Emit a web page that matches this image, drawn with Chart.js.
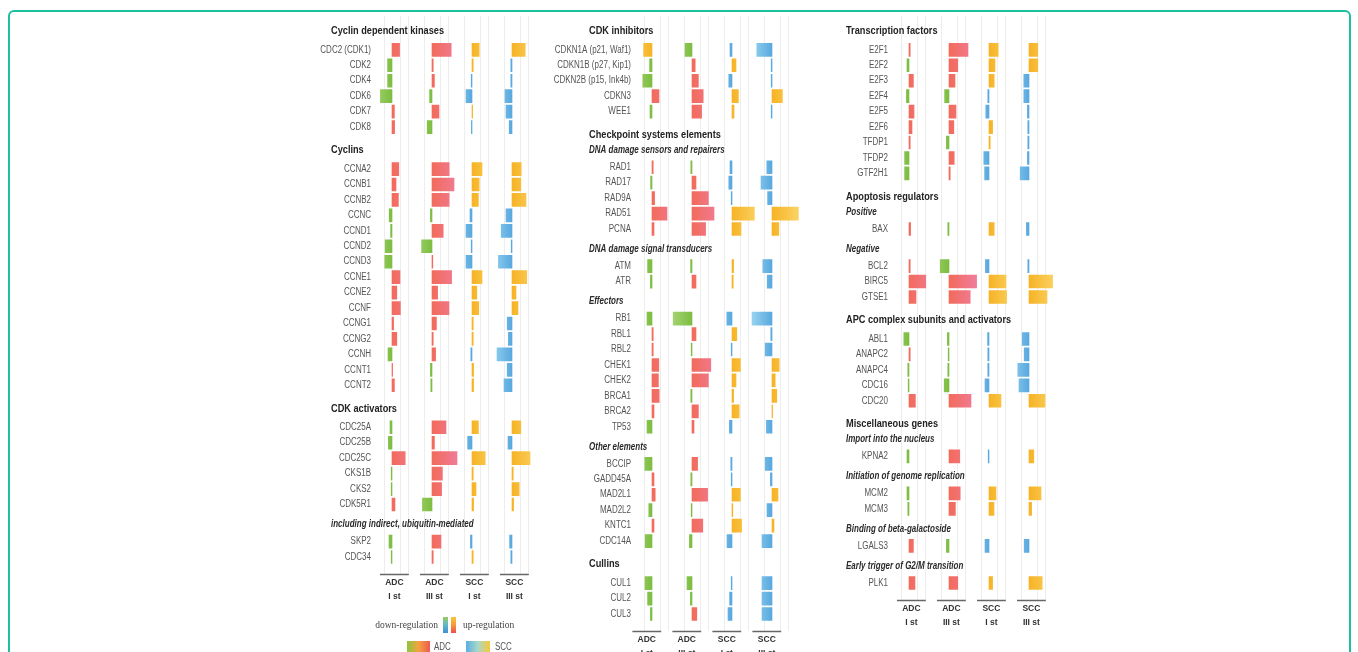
<!DOCTYPE html>
<html>
<head>
<meta charset="utf-8">
<script src="https://cdn.jsdelivr.net/npm/chart.js@4.4.0/dist/chart.umd.min.js"></script>
<style>
  html, body { margin: 0; padding: 0; background: #fff; width: 1358px; height: 652px; overflow: hidden; }
  #frame { position: absolute; left: 8px; top: 10px; width: 1343px; height: 700px; border: 2px solid #1cbf9f; border-radius: 6px; box-sizing: border-box; }
  canvas { position: absolute; }
</style>
</head>
<body>
<div id="frame"></div>
<canvas id="col1"></canvas>
<canvas id="col2"></canvas>
<canvas id="col3"></canvas>
<script>
// row lists: "# " = section title, "~ " = italic subsection, anything else is a gene
const col1Rows = [
  '# Cyclin dependent kinases', 'CDC2 (CDK1)', 'CDK2', 'CDK4', 'CDK6', 'CDK7', 'CDK8',
  '# Cyclins', 'CCNA2', 'CCNB1', 'CCNB2', 'CCNC', 'CCND1', 'CCND2', 'CCND3', 'CCNE1', 'CCNE2',
  'CCNF', 'CCNG1', 'CCNG2', 'CCNH', 'CCNT1', 'CCNT2',
  '# CDK activators', 'CDC25A', 'CDC25B', 'CDC25C', 'CKS1B', 'CKS2', 'CDK5R1',
  '~ including indirect, ubiquitin-mediated', 'SKP2', 'CDC34'
]
const col1AdcI   = [1.9, -1.1, -1.1, -2.9, 0.6, 0.65,  1.7, 1.0, 1.6, -0.7, -0.35, -1.7, -1.8, 2.0, 1.2, 2.1, 0.4, 1.2, -1.0, 0.15, 0.6,  -0.5, -0.9, 3.3, -0.2, -0.2, 0.75,  -0.75, -0.2]
const col1AdcIII = [4.8, 0.3, 0.6, -0.6, 1.75, -1.2,  4.3, 5.5, 4.3, -0.4, 2.8, -2.6, 0.2, 4.9, 1.4, 4.25, 1.1, 0.3, 0.9, -0.4, -0.3,  3.5, 0.6, 6.25, 2.6, 2.4, -2.4,  2.25, 0.3]
const col1SccI   = [1.8, 0.3, -0.2, -1.5, 0.15, -0.15,  2.5, 1.8, 1.6, -0.5, -1.5, -0.2, -1.5, 2.5, 1.2, 1.7, 0.3, 0.3, -0.3, 0.4, 0.4,  1.6, -1.1, 3.3, 0.3, 1.0, 0.4,  -0.4, 0.3]
const col1SccIII = [3.3, -0.3, -0.3, -1.75, -1.5, -0.7,  2.3, 2.2, 3.5, -1.5, -2.7, -0.2, -3.4, 3.7, 1.0, 1.5, -1.2, -0.9, -3.75, -1.2, -2.0,  2.2, -1.0, 4.5, 0.3, 1.8, 0.4,  -0.6, -0.3]

const col2Rows = [
  '# CDK inhibitors', 'CDKN1A (p21, Waf1)', 'CDKN1B (p27, Kip1)', 'CDKN2B (p15, Ink4b)', 'CDKN3', 'WEE1',
  '# Checkpoint systems elements', '~ DNA damage sensors and repairers', 'RAD1', 'RAD17', 'RAD9A', 'RAD51', 'PCNA',
  '~ DNA damage signal transducers', 'ATM', 'ATR',
  '~ Effectors', 'RB1', 'RBL1', 'RBL2', 'CHEK1', 'CHEK2', 'BRCA1', 'BRCA2', 'TP53',
  '~ Other elements', 'BCCIP', 'GADD45A', 'MAD2L1', 'MAD2L2', 'KNTC1', 'CDC14A',
  '# Cullins', 'CUL1', 'CUL2', 'CUL3'
]
const col2AdcI   = [-2.1, -0.6, -2.3, 1.75, -0.5,  0.3, -0.35, 0.65, 3.75, 0.5,  -1.1, -0.4,  -1.25, 0.3, 0.3, 1.7, 1.6, 1.8, 0.5, -1.25,  -1.8, 0.5, 0.8, -0.8, 0.5, -1.7,  -1.75, -1.1, -0.4]
const col2AdcIII = [-1.75, 0.8, 1.6, 2.8, 2.4,  -0.3, 1.0, 4.1, 5.5, 3.4,  -0.35, 1.0,  -4.7, 1.0, -0.2, 4.7, 4.1, -0.3, 1.6, 0.5,  1.4, -0.3, 3.9, -0.2, 2.7, -0.65,  -1.25, -0.4, 1.2]
const col2SccI   = [-0.5, 1.0, -0.8, 1.6, 0.5,  -0.5, -0.8, -0.2, 5.6, 2.25,  0.4, 0.3,  -1.3, 1.2, -0.2, 2.1, 1.0, 0.4, 1.8, -0.65,  -0.3, -0.2, 2.1, 0.2, 2.4, -1.25,  -0.2, -0.6, -1.0]
const col2SccIII = [-3.8, -0.2, -0.2, 2.6, -0.2,  -1.3, -2.75, -1.1, 6.6, 1.7,  -2.3, -1.2,  -5.0, -0.3, -1.7, 1.8, 0.8, 1.2, 0.15, -1.4,  -1.7, -0.4, 1.5, -1.25, 0.5, -2.5,  -2.5, -2.5, -2.5]

const col3Rows = [
  '# Transcription factors', 'E2F1', 'E2F2', 'E2F3', 'E2F4', 'E2F5', 'E2F6', 'TFDP1', 'TFDP2', 'GTF2H1',
  '# Apoptosis regulators', '~ Positive', 'BAX', '~ Negative', 'BCL2', 'BIRC5', 'GTSE1',
  '# APC complex subunits and activators', 'ABL1', 'ANAPC2', 'ANAPC4', 'CDC16', 'CDC20',
  '# Miscellaneous genes', '~ Import into the nucleus', 'KPNA2', '~ Initiation of genome replication', 'MCM2', 'MCM3',
  '~ Binding of beta-galactoside', 'LGALS3', '~ Early trigger of G2/M transition', 'PLK1'
]
const col3AdcI   = [0.3, -0.5, 1.1, -0.65, 1.25, 0.75, 0.3, -1.1, -1.1,  0.4,  0.3, 4.2, 1.75,  -1.3, 0.3, -0.3, -0.2, 1.6,  -0.5, -0.5, -0.3, 1.1, 1.5]
const col3AdcIII = [4.75, 2.2, 1.5, -1.1, 1.75, 1.2, -0.65, 1.3, 0.3,  -0.3,  -2.2, 6.9, 5.3,  -0.4, -0.2, -0.3, -1.2, 5.5,  2.7, 2.8, 1.6, -0.65, 2.2]
const col3SccI   = [2.3, 1.5, 1.3, -0.3, -0.8, 0.9, 0.3, -1.3, -1.1,  1.3,  -0.9, 4.25, 4.4,  -0.35, -0.3, -0.3, -1.0, 3.0,  -0.2, 1.75, 1.25, -1.0, 0.9]
const col3SccIII = [2.2, 2.2, -1.3, -1.3, -0.4, -0.3, -0.3, -0.4, -2.2,  -0.65,  -0.3, 5.9, 4.5,  -1.7, -1.2, -2.8, -2.5, 4.0,  1.2, 3.0, 0.65, -1.2, 3.3]

const stageLabels = [['ADC', 'I st'], ['ADC', 'III st'], ['SCC', 'I st'], ['SCC', 'III st']]

// layout
const ROW = 15.45        // px per row unit
const UNIT = 4           // px per value unit
const PANEL = 10         // value units between panel zero lines
const X_MIN = -5, X_MAX = 37
const CANVAS_TOP = 4
const PAD_TOP = 31 - ROW - CANVAS_TOP
const AXIS_H = 40
const GAP = {'gene>gene': 1, 'h1>gene': 1.22, 'gene>h1': 1.5, 'h1>h2': 1.0, 'h2>gene': 1.1, 'gene>h2': 1.3}

const SANS = "'Liberation Sans', Arial, sans-serif"
const SQUEEZE = 0.8      // the figure uses a narrow face
const FILL = {
  red:    ['#f26b5b', '#f07d9c'],
  green:  ['#7dbd42', '#b4dc86'],
  blue:   ['#58a8df', '#b0e4f6'],
  yellow: ['#f6b326', '#fbd567']
}

function layoutRows(rows) {
  let pos = 0, prev = null
  return rows.map(r => {
    const kind = r.startsWith('# ') ? 'h1' : r.startsWith('~ ') ? 'h2' : 'gene'
    if (prev) pos += GAP[prev + '>' + kind] || 1
    prev = kind
    return {kind, text: kind === 'gene' ? r : r.slice(2), pos}
  })
}

function barFill(c, panel, genes) {
  if (c.type !== 'data' || !c.raw) return FILL.red[0]
  const [a, b] = c.raw.x
  const neg = b < a
  let key = panel < 2 ? (neg ? 'green' : 'red') : (neg ? 'blue' : 'yellow')
  // this one is printed orange in the figure
  if (panel === 0 && genes[c.dataIndex].text.startsWith('CDKN1A')) key = 'yellow'
  const xs = c.chart.scales.x
  const x0 = xs ? xs.getPixelForValue(a) : NaN
  const x1 = xs ? xs.getPixelForValue(neg ? a - 7 : a + 7) : NaN
  if (!isFinite(x0) || !isFinite(x1) || x0 === x1) return FILL[key][0]
  const g = c.chart.ctx.createLinearGradient(x0, 0, x1, 0)
  g.addColorStop(0, FILL[key][0])
  g.addColorStop(1, FILL[key][1])
  return g
}

function squeezedText(ctx, text, x, y, font, color, align) {
  ctx.save()
  ctx.font = font
  ctx.fillStyle = color
  ctx.textAlign = align
  ctx.textBaseline = 'middle'
  ctx.translate(x, y)
  ctx.scale(SQUEEZE, 1)
  ctx.fillText(text, 0, 0)
  ctx.restore()
}

function drawLegend(ctx, ox, oy) {
  ctx.textBaseline = 'middle'
  ctx.font = "9.5px 'Liberation Serif', 'DejaVu Serif', serif"
  ctx.fillStyle = '#444'
  ctx.textAlign = 'right'
  ctx.fillText('down-regulation', 438 - ox, 625 - oy)
  ctx.textAlign = 'left'
  ctx.fillText('up-regulation', 463 - ox, 625 - oy)

  let g = ctx.createLinearGradient(0, 617 - oy, 0, 633 - oy)
  g.addColorStop(0, '#9acd5a'); g.addColorStop(0.5, '#5fb8c8'); g.addColorStop(1, '#3d8fd6')
  ctx.fillStyle = g
  ctx.fillRect(443 - ox, 617 - oy, 5, 16)
  g = ctx.createLinearGradient(0, 617 - oy, 0, 633 - oy)
  g.addColorStop(0, '#f7c53a'); g.addColorStop(0.5, '#f39a3c'); g.addColorStop(1, '#ee4b4b')
  ctx.fillStyle = g
  ctx.fillRect(451 - ox, 617 - oy, 5, 16)

  g = ctx.createLinearGradient(407 - ox, 0, 430 - ox, 0)
  g.addColorStop(0, '#8cc63f'); g.addColorStop(0.5, '#f4a340'); g.addColorStop(1, '#ee5a52')
  ctx.fillStyle = g
  ctx.fillRect(407 - ox, 641 - oy, 23, 12)
  g = ctx.createLinearGradient(466 - ox, 0, 490 - ox, 0)
  g.addColorStop(0, '#5aaee0'); g.addColorStop(0.5, '#a9d9c8'); g.addColorStop(1, '#f8c73c')
  ctx.fillStyle = g
  ctx.fillRect(466 - ox, 641 - oy, 24, 12)

  squeezedText(ctx, 'ADC', 434 - ox, 647 - oy, '10px ' + SANS, '#555', 'left')
  squeezedText(ctx, 'SCC', 495 - ox, 647 - oy, '10px ' + SANS, '#555', 'left')
}

function decor(rows, opt) {
  return {
    id: 'decor',
    afterDraw(chart) {
      const {ctx, chartArea, scales: {x, y}} = chart
      const hx = opt.headerX - opt.left
      for (const r of rows) {
        const py = y.getPixelForValue(r.pos)
        if (r.kind === 'gene') {
          squeezedText(ctx, r.text, chartArea.left - 1, py, '10px ' + SANS, '#555', 'right')
        } else if (r.kind === 'h1') {
          squeezedText(ctx, r.text, hx, py, 'bold 11.5px ' + SANS, '#222', 'left')
        } else {
          squeezedText(ctx, r.text, hx, py, 'italic bold 10px ' + SANS, '#2a2a2a', 'left')
        }
      }
      ctx.save()
      ctx.strokeStyle = '#666'
      ctx.lineWidth = 1.5
      for (let p = 0; p < 4; p++) {
        const c = p * PANEL + opt.axisShift
        ctx.beginPath()
        ctx.moveTo(x.getPixelForValue(c - 3.6), chartArea.bottom + 0.5)
        ctx.lineTo(x.getPixelForValue(c + 3.6), chartArea.bottom + 0.5)
        ctx.stroke()
      }
      if (opt.legend) drawLegend(ctx, opt.left, CANVAS_TOP)
      ctx.restore()
    }
  }
}

function makeChart(id, rows, series, opt) {
  const laid = layoutRows(rows)
  const genes = laid.filter(r => r.kind === 'gene')
  const yMin = -1
  const yMax = genes[genes.length - 1].pos + 1.1

  const canvas = document.getElementById(id)
  canvas.width = opt.labelW + (X_MAX - X_MIN) * UNIT
  canvas.height = Math.round(PAD_TOP + (yMax - yMin) * ROW + AXIS_H + opt.padBottom)
  canvas.style.left = opt.left + 'px'
  canvas.style.top = CANVAS_TOP + 'px'

  return new Chart(canvas, {
    type: 'bar',
    data: {
      labels: genes.map(g => g.text),
      datasets: series.map((vals, p) => ({
        label: stageLabels[p].join(' '),
        data: genes.map((g, i) => ({x: [p * PANEL, p * PANEL + vals[i]], y: g.pos})),
        backgroundColor: c => barFill(c, p, genes),
        borderWidth: 0,
        barThickness: 13,
        grouped: false
      }))
    },
    options: {
      indexAxis: 'y',
      responsive: false,
      animation: false,
      events: [],
      layout: {padding: {top: PAD_TOP, bottom: opt.padBottom, left: 0, right: 0}},
      plugins: {legend: {display: false}, tooltip: {enabled: false}},
      scales: {
        y: {
          type: 'linear', reverse: true, min: yMin, max: yMax, offset: false,
          afterFit: s => { s.width = opt.labelW },
          ticks: {display: false},
          grid: {display: false, drawTicks: false},
          border: {display: false}
        },
        x: {
          type: 'linear', min: X_MIN, max: X_MAX, offset: false,
          afterFit: s => { s.height = AXIS_H },
          afterBuildTicks: s => {
            const t = []
            for (let p = 0; p < 4; p++) {
              const c = p * PANEL
              t.push({value: c - 2}, {value: c + opt.axisShift, lbl: p + 1}, {value: c + 2}, {value: c + 4})
            }
            s.ticks = t
          },
          ticks: {
            autoSkip: false, maxRotation: 0, minRotation: 0, padding: 2, color: '#333',
            font: {family: SANS, size: 8.5, weight: 'bold', lineHeight: 1.65},
            callback: function (v, i, ticks) { return ticks[i].lbl ? stageLabels[ticks[i].lbl - 1] : '' }
          },
          grid: {
            drawTicks: false, lineWidth: 1,
            color: c => (c.tick && c.tick.lbl) ? 'rgba(0,0,0,0)' : 'rgba(0,0,0,0.07)'
          },
          border: {display: false}
        }
      }
    },
    plugins: [decor(laid, opt)]
  })
}

makeChart('col1', col1Rows, [col1AdcI, col1AdcIII, col1SccI, col1SccIII],
  {left: 300, labelW: 72, headerX: 331, axisShift: 0.6, padBottom: 50, legend: true})
makeChart('col2', col2Rows, [col2AdcI, col2AdcIII, col2SccI, col2SccIII],
  {left: 540, labelW: 92, headerX: 589, axisShift: -1.3, padBottom: 10, legend: false})
makeChart('col3', col3Rows, [col3AdcI, col3AdcIII, col3SccI, col3SccIII],
  {left: 830, labelW: 59, headerX: 846, axisShift: 0.6, padBottom: 10, legend: false})
</script>
</body>
</html>
